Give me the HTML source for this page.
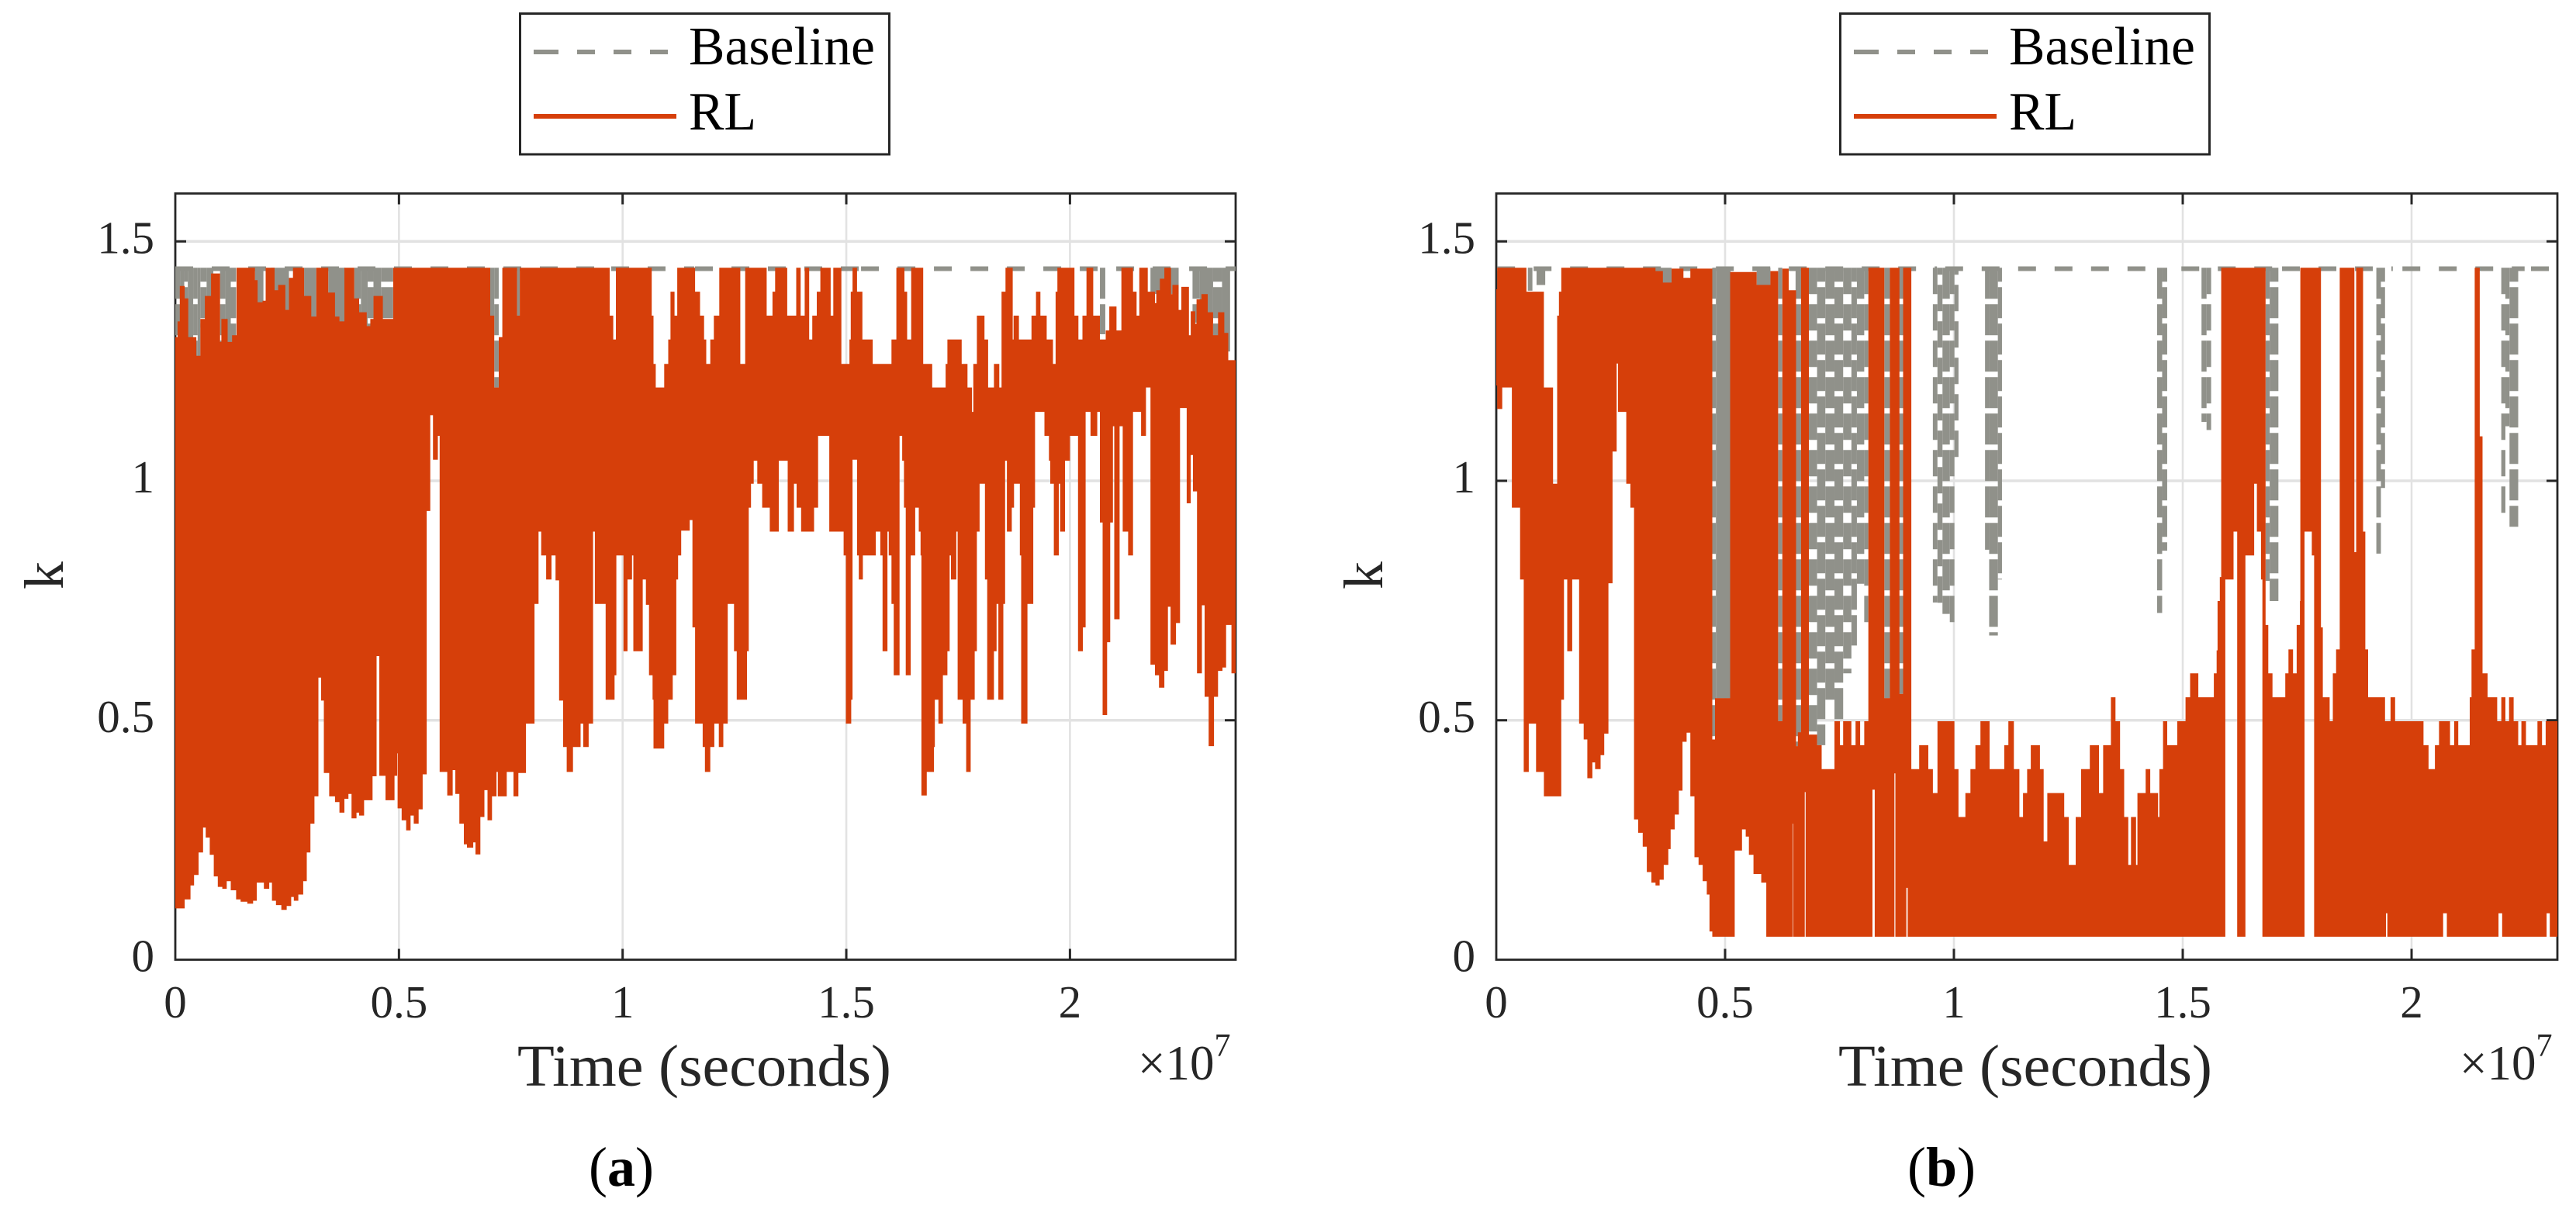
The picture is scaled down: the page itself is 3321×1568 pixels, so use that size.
<!DOCTYPE html>
<html lang="en">
<head>
<meta charset="utf-8">
<title>Baseline vs RL k over time</title>
<style>
html,body{margin:0;padding:0;background:#fff;}
svg{display:block;}
text{font-family:"Liberation Serif",serif;}
</style>
</head>
<body>
<svg id="figure" xmlns="http://www.w3.org/2000/svg" width="3321" height="1568" viewBox="0 0 3321 1568">
<rect x="0" y="0" width="3321" height="1568" fill="#fff"/>

<g id="panel-a">
  <g id="plot-a"></g>
  <g>
    <rect x="670.5" y="17.5" width="476" height="181.5" fill="#fff" stroke="#262626" stroke-width="3"/>
    <line x1="688" x2="861" y1="67" y2="67" stroke="#90918a" stroke-width="6" stroke-dasharray="32 24 23 24 23 24 23"/>
    <text x="888" y="83" font-size="70" fill="#000" textLength="240" lengthAdjust="spacingAndGlyphs">Baseline</text>
    <line x1="688" x2="872" y1="150" y2="150" stroke="#d63f0a" stroke-width="6"/>
    <text x="888" y="167" font-size="70" fill="#000" textLength="87" lengthAdjust="spacingAndGlyphs">RL</text>
  </g>
  <text transform="translate(81,742) rotate(-90)" text-anchor="middle" font-size="72" fill="#262626">k</text>
  <text x="908" y="1400" text-anchor="middle" font-size="76" fill="#262626" textLength="482" lengthAdjust="spacingAndGlyphs">Time (seconds)</text>
  <text x="1467" y="1392" font-size="63" fill="#262626">×10<tspan font-size="42" dy="-30">7</tspan></text>
  <text x="801" y="1529" text-anchor="middle" font-size="72" fill="#000">(<tspan font-weight="bold">a</tspan>)</text>
</g>

<g id="panel-b">
  <g id="plot-b"></g>
  <g>
    <rect x="2372.5" y="17.5" width="476" height="181.5" fill="#fff" stroke="#262626" stroke-width="3"/>
    <line x1="2390" x2="2563" y1="67" y2="67" stroke="#90918a" stroke-width="6" stroke-dasharray="32 24 23 24 23 24 23"/>
    <text x="2590" y="83" font-size="70" fill="#000" textLength="240" lengthAdjust="spacingAndGlyphs">Baseline</text>
    <line x1="2390" x2="2574" y1="150" y2="150" stroke="#d63f0a" stroke-width="6"/>
    <text x="2590" y="167" font-size="70" fill="#000" textLength="87" lengthAdjust="spacingAndGlyphs">RL</text>
  </g>
  <text transform="translate(1782,742) rotate(-90)" text-anchor="middle" font-size="72" fill="#262626">k</text>
  <text x="2611" y="1400" text-anchor="middle" font-size="76" fill="#262626" textLength="482" lengthAdjust="spacingAndGlyphs">Time (seconds)</text>
  <text x="3171" y="1392" font-size="63" fill="#262626">×10<tspan font-size="42" dy="-30">7</tspan></text>
  <text x="2503" y="1529" text-anchor="middle" font-size="72" fill="#000">(<tspan font-weight="bold">b</tspan>)</text>
</g>
</svg>

<script>
// Shared axis ticks
const xTickValues = [0, 0.5, 1, 1.5, 2];
const xTickLabels = ["0", "0.5", "1", "1.5", "2"];
const yTickValues = [0, 0.5, 1, 1.5];
const yTickLabels = ["0", "0.5", "1", "1.5"];
const yLimit = 1.6;
const baselineLevel = 1.443;
const dipTop = 1.445;
const tLimitA = 2.3704;
const tLimitB = 2.3186;

// Panel (a): RL upper envelope (time in 1e7 s, k value)
const rlUpperTimeA = [0,.005,.010,.021,.029,.047,.056,.066,.080,.100,.103,.117,.127,.137,.178,.184,.195,.202,.222,.230,.246,.254,.263,.288,.304,.315,.342,.357,.367,.378,.400,.411,.428,.436,.443,.464,.487,.704,.713,.723,.731,.764,.770,.971,.979,.985,1.065,1.069,1.074,1.093,1.102,1.107,1.116,1.122,1.162,1.173,1.182,1.187,1.196,1.204,1.216,1.263,1.274,1.322,1.335,1.341,1.368,1.388,1.398,1.407,1.417,1.424,1.434,1.442,1.465,1.471,1.489,1.507,1.510,1.514,1.524,1.536,1.559,1.601,1.612,1.630,1.636,1.645,1.672,1.692,1.722,1.726,1.758,1.771,1.781,1.784,1.792,1.809,1.817,1.830,1.842,1.847,1.856,1.872,1.874,1.886,1.914,1.924,1.934,1.948,1.962,1.968,1.972,2.010,2.019,2.028,2.037,2.052,2.067,2.080,2.088,2.104,2.115,2.141,2.149,2.155,2.174,2.190,2.193,2.201,2.211,2.226,2.229,2.243,2.249,2.266,2.270,2.280,2.283,2.294,2.308,2.320,2.331,2.345,2.354];
const rlUpperValueA = [1.300,1.333,1.407,1.381,1.300,1.261,1.338,1.386,1.433,1.290,1.338,1.290,1.304,1.445,1.419,1.373,1.376,1.445,1.398,1.409,1.357,1.424,1.445,1.386,1.343,1.445,1.393,1.343,1.333,1.445,1.381,1.352,1.323,1.338,1.386,1.338,1.445,1.345,1.195,1.300,1.445,1.345,1.445,1.345,1.295,1.445,1.345,1.244,1.195,1.244,1.295,1.395,1.345,1.445,1.395,1.345,1.295,1.244,1.295,1.345,1.445,1.244,1.445,1.345,1.395,1.445,1.345,1.445,1.345,1.445,1.295,1.345,1.395,1.445,1.345,1.445,1.244,1.295,1.395,1.445,1.395,1.295,1.244,1.295,1.445,1.395,1.295,1.445,1.244,1.195,1.244,1.295,1.244,1.195,1.144,1.244,1.345,1.295,1.195,1.244,1.195,1.395,1.445,1.295,1.345,1.295,1.345,1.395,1.345,1.295,1.244,1.395,1.445,1.345,1.295,1.345,1.445,1.345,1.295,1.314,1.364,1.314,1.445,1.395,1.345,1.445,1.395,1.371,1.398,1.422,1.445,1.390,1.409,1.357,1.405,1.304,1.354,1.328,1.379,1.390,1.352,1.304,1.352,1.309,1.252];

// Panel (a): RL lower envelope
const rlLowerTimeA = [0,.021,.034,.042,.052,.062,.068,.077,.086,.095,.105,.115,.124,.136,.146,.161,.174,.182,.198,.210,.216,.225,.237,.249,.259,.265,.275,.286,.294,.302,.311,.320,.326,.332,.344,.357,.367,.378,.387,.394,.405,.411,.422,.441,.450,.456,.470,.490,.496,.497,.506,.516,.526,.533,.544,.553,.562,.570,.576,.587,.591,.608,.620,.626,.635,.645,.652,.666,.671,.682,.691,.698,.708,.718,.721,.741,.756,.767,.784,.803,.812,.818,.829,.841,.850,.858,.867,.875,.889,.906,.912,.924,.934,.938,.962,.982,.986,1.002,1.011,1.021,1.024,1.045,1.052,1.059,1.067,1.069,1.093,1.102,1.112,1.120,1.124,1.131,1.150,1.156,1.162,1.179,1.184,1.196,1.205,1.215,1.225,1.235,1.249,1.255,1.278,1.282,1.287,1.293,1.301,1.312,1.329,1.349,1.369,1.383,1.389,1.399,1.428,1.437,1.462,1.494,1.499,1.511,1.514,1.524,1.528,1.537,1.566,1.576,1.581,1.592,1.595,1.601,1.606,1.619,1.625,1.629,1.633,1.644,1.654,1.662,1.666,1.668,1.680,1.696,1.698,1.706,1.716,1.726,1.731,1.734,1.746,1.749,1.760,1.768,1.778,1.787,1.792,1.798,1.810,1.815,1.830,1.836,1.840,1.851,1.855,1.859,1.870,1.875,1.888,1.891,1.905,1.918,1.922,1.943,1.953,1.956,1.964,1.975,1.978,1.989,2.000,2.018,2.029,2.035,2.046,2.061,2.067,2.073,2.083,2.090,2.096,2.099,2.111,2.118,2.130,2.141,2.159,2.170,2.180,2.190,2.199,2.211,2.219,2.225,2.237,2.246,2.261,2.270,2.275,2.284,2.295,2.301,2.310,2.322,2.331,2.341,2.349,2.361];
const rlLowerValueA = [.107,.126,.155,.177,.224,.276,.255,.219,.174,.152,.148,.164,.145,.126,.121,.117,.123,.161,.148,.161,.123,.114,.104,.112,.131,.123,.136,.164,.224,.284,.341,.589,.541,.390,.341,.329,.307,.336,.346,.295,.307,.301,.333,.383,.634,.384,.333,.384,.431,.316,.291,.270,.301,.284,.314,.387,.937,1.137,1.044,1.094,.392,.343,.396,.346,.284,.241,.234,.245,.220,.298,.354,.291,.341,.392,.341,.392,.341,.390,.493,.743,.894,.844,.794,.844,.792,.541,.444,.392,.444,.493,.444,.493,.894,.743,.543,.594,.844,.644,.794,.844,.644,.794,.741,.594,.543,.441,.493,.543,.594,.794,.844,.896,.918,.694,.493,.444,.392,.444,.493,.444,.493,.743,.644,.543,.644,.944,.994,1.042,.994,.944,.894,1.042,.894,.994,.944,.894,.944,1.094,.894,.844,.493,.543,1.044,.844,.794,.844,.894,.844,.644,.894,.844,.743,.594,1.094,1.042,.944,.594,.844,.944,.894,.844,.343,.392,.444,.543,.493,.594,.644,.844,.794,.894,.543,.493,.392,.543,.644,.894,.994,.794,.543,.644,.743,.543,.743,1.042,.894,.944,.994,.844,.493,.743,.944,1.144,1.094,1.042,.994,.844,.994,.894,1.042,1.094,.644,.694,1.144,1.094,1.144,.913,.511,.663,.913,1.114,.711,1.114,.894,.844,1.144,1.094,1.195,.616,.594,.568,.603,.737,.658,.703,1.152,.953,1.054,.978,.598,.740,.549,.446,.549,.603,.610,.699,.598];

// Panel (a): Baseline dip columns (start, end, lowest k, dash pattern index)
const dipStartA = [0,.012,.020,.028,.040,.050,.056,.070,.100,.112,.124,.178,.213,.288,.342,.400,.415,.430,.443,.460,.704,.713,.764,2.067,2.180,2.274,2.290,2.320,2.340];
const dipEndA = [.012,.020,.028,.040,.050,.056,.070,.085,.112,.124,.136,.197,.254,.315,.380,.415,.430,.443,.460,.487,.713,.723,.770,2.079,2.243,2.290,2.320,2.340,2.358];
const dipLowA = [1.26,1.26,1.26,1.26,1.26,1.26,1.32,1.32,1.26,1.26,1.26,1.37,1.35,1.33,1.33,1.28,1.28,1.28,1.33,1.33,1.345,1.195,1.345,1.306,1.39,1.33,1.33,1.30,1.27];
const dipPatternA = [1,0,3,0,1,0,3,0,1,0,3,0,0,0,0,1,0,3,0,3,0,1,0,1,0,1,0,3,0];
const baselineStartA = [0,.9745,1.1618,1.533];
const baselineEndA = [.96,1.16,1.5294,2.3704];

// Panel (b): RL upper envelope
const rlUpperTimeB = [0,.002,.066,.104,.124,.133,.137,.142,.348,.364,.383,.409,.424,.472,.478,.511,.569,.599,.616,.625,.639,.655,.659,.666,.683,.701,.711,.739,.751,.758,.776,.785,.795,.804,.813,.848,.860,.881,.889,.907,.924,.944,.954,.964,1.001,1.010,1.025,1.036,1.047,1.058,1.078,1.110,1.119,1.131,1.143,1.151,1.160,1.168,1.188,1.196,1.204,1.241,1.251,1.266,1.278,1.297,1.317,1.326,1.343,1.353,1.363,1.372,1.381,1.387,1.398,1.401,1.419,1.429,1.446,1.449,1.457,1.466,1.488,1.506,1.516,1.534,1.568,1.574,1.576,1.581,1.584,1.681,1.687,1.696,1.724,1.731,1.741,1.749,1.756,1.757,1.802,1.806,1.821,1.828,1.835,1.843,1.875,1.879,1.894,1.899,1.905,1.942,1.954,1.964,2.026,2.037,2.051,2.060,2.084,2.093,2.102,2.127,2.131,2.138,2.149,2.155,2.166,2.187,2.196,2.205,2.213,2.223,2.233,2.240,2.250,2.275,2.285,2.293];
const rlUpperValueB = [1.400,1.445,1.395,1.195,.994,1.345,1.395,1.445,1.438,1.414,1.443,1.424,1.443,.460,.546,1.436,1.409,1.438,.498,1.443,1.398,.446,.475,1.445,.470,.448,.398,.498,.448,.498,.448,.498,.448,.498,1.445,.546,1.445,.555,1.445,.398,.448,.398,.348,.498,.398,.298,.348,.398,.448,.498,.398,.448,.498,.398,.298,.348,.398,.448,.398,.247,.348,.298,.198,.298,.398,.448,.348,.448,.548,.498,.398,.298,.198,.298,.198,.348,.398,.348,.298,.398,.498,.448,.498,.548,.598,.548,.598,.646,.749,.799,1.445,.699,.598,.548,.598,.648,.598,.699,.749,1.445,.694,.548,.498,.598,.648,1.445,.851,1.445,.894,.648,.548,.498,.548,.498,.448,.398,.448,.498,.448,.498,.448,.548,.648,1.445,1.093,.598,.548,.498,.548,.498,.548,.498,.448,.498,.448,.498,.448,.498];

// Panel (b): RL lower envelope
const rlLowerTimeB = [0,.002,.013,.034,.052,.060,.071,.087,.104,.142,.148,.155,.166,.181,.191,.199,.210,.216,.228,.236,.245,.254,.263,.266,.284,.293,.301,.310,.320,.329,.339,.348,.357,.366,.376,.381,.390,.399,.407,.416,.424,.433,.442,.451,.460,.466,.472,.521,.537,.545,.552,.562,.579,.590,.648,.649,.674,.676,.822,.827,.870,.872,.896,.899,1.593,1.611,1.619,1.637,1.656,1.662,1.671,1.674,1.766,1.782,1.787,1.944,1.947,2.069,2.077,2.190,2.198,2.295,2.302];
const rlLowerValueB = [1.199,1.150,1.195,.944,.794,.392,.493,.392,.341,.543,.794,.644,.794,.493,.460,.379,.412,.398,.427,.472,.786,1.061,1.245,1.144,.994,.944,.293,.265,.236,.183,.161,.155,.167,.198,.231,.272,.303,.353,.455,.474,.341,.214,.198,.164,.136,.059,.048,.228,.272,.257,.219,.179,.161,.048,.284,.048,.350,.048,.355,.048,.389,.048,.150,.048,.794,.894,.048,.844,.994,.894,.794,.048,.894,.844,.048,.097,.048,.097,.048,.097,.048,.097,.048];

// Panel (b): Baseline dip columns
const dipStartB = [.069,.088,.348,.569,.472,.480,.616,.654,.683,.701,.719,.739,.758,.776,.788,.804,.848,.879,.954,.964,.975,.991,1.001,1.068,1.077,1.096,1.444,1.455,1.541,1.552,1.681,1.690,1.923,1.933,2.196,2.205,2.214];
const dipEndB = [.079,.107,.383,.599,.480,.512,.625,.666,.701,.719,.739,.758,.776,.788,.804,.813,.860,.889,.964,.975,.991,1.001,1.010,1.077,1.096,1.105,1.455,1.466,1.552,1.562,1.690,1.709,1.933,1.942,2.205,2.214,2.233];
const dipLowB = [1.397,1.409,1.41,1.40,.460,.546,.498,.446,.470,.448,.541,.498,.598,.656,.785,.699,.546,.555,.746,.741,.722,.699,1.037,.856,.677,.794,.724,.854,1.123,1.106,.791,.749,.848,.985,.928,1.114,.904];
const dipPatternB = [0,1,0,0,1,0,1,1,2,3,1,3,2,3,1,2,1,1,2,4,1,2,4,1,1,3,1,3,1,2,1,3,1,3,2,1,3];
const baselineStartB = [.002,.981,1.497,1.717,1.980,2.261];
const baselineEndB = [.963,1.434,1.705,1.959,2.247,2.3186];

const SVG_NS = "http://www.w3.org/2000/svg";
const GRAY = "#90918a";
const RED = "#d63f0a";
const AXIS = "#262626";
const GRID = "#e2e2e2";
const DIP_DASH = [null, {d:"40 7", o:0}, {d:"34 13", o:0}, {d:"40 7", o:22}, {d:"34 13", o:25}];

function yScale(k) { return 1237.5 - 617.5 * k; }

function drawPanel(parent, left, right, tLimit, p) {
  const xScale = t => left + (right - left) * t / tLimit;
  const top = yScale(yLimit);
  const bottom = yScale(0);

  function add(tag, attrs, text) {
    const el = document.createElementNS(SVG_NS, tag);
    for (const key in attrs) el.setAttribute(key, attrs[key]);
    if (text !== undefined) el.textContent = text;
    parent.appendChild(el);
    return el;
  }

  xTickValues.forEach((v, i) => {
    if (v > 0) {
      const grid = add("line", {x1:xScale(v), x2:xScale(v), y1:top, y2:bottom, stroke:GRID, "stroke-width":2.6});
      
      
    }
    const label = add("text", {x:xScale(v), y:1312, "text-anchor":"middle", "font-size":59, fill:AXIS}, xTickLabels[i]);
    
    
  });
  yTickValues.forEach((v, i) => {
    if (v > 0) {
      const grid = add("line", {x1:left, x2:right, y1:yScale(v), y2:yScale(v), stroke:GRID, "stroke-width":3.4});
      
      
    }
    const label = add("text", {x:left - 27, y:yScale(v) + 15, "text-anchor":"end", "font-size":59, fill:AXIS}, yTickLabels[i]);
    
    
  });

  const box = add("rect", {x:left, y:top, width:right - left, height:bottom - top, fill:"none", stroke:AXIS, "stroke-width":2.8});
  
  

  xTickValues.forEach(v => {
    if (v === 0) return;
    const tickBottom = add("line", {x1:xScale(v), x2:xScale(v), y1:bottom, y2:bottom - 14, stroke:AXIS, "stroke-width":3});
    
    
    const tickTop = add("line", {x1:xScale(v), x2:xScale(v), y1:top, y2:top + 14, stroke:AXIS, "stroke-width":3});
    
    
  });
  yTickValues.forEach(v => {
    if (v === 0) return;
    const tickLeft = add("line", {x1:left, x2:left + 14, y1:yScale(v), y2:yScale(v), stroke:AXIS, "stroke-width":3});
    
    
    const tickRight = add("line", {x1:right, x2:right - 14, y1:yScale(v), y2:yScale(v), stroke:AXIS, "stroke-width":3});
    
    
  });

  p.baseStart.forEach((t0, i) => {
    const seg = add("line", {x1:xScale(t0), x2:xScale(p.baseEnd[i]), y1:yScale(baselineLevel), y2:yScale(baselineLevel), stroke:GRAY, "stroke-width":6, "stroke-dasharray":"23 24"});
    
    
  });

  p.dipStart.forEach((t0, i) => {
    const x0 = xScale(t0);
    const x1 = xScale(p.dipEnd[i]);
    const attrs = {x1:(x0 + x1) / 2, x2:(x0 + x1) / 2, y1:yScale(dipTop), y2:yScale(p.dipLow[i]), stroke:GRAY, "stroke-width":x1 - x0};
    const pattern = DIP_DASH[p.dipPattern[i]];
    if (pattern) {
      attrs["stroke-dasharray"] = pattern.d;
      attrs["stroke-dashoffset"] = pattern.o;
    }
    const dip = add("line", attrs);
    
    
  });

  let d = "";
  p.upperT.forEach((t, i) => {
    const next = i + 1 < p.upperT.length ? p.upperT[i + 1] : tLimit;
    d += (i === 0 ? "M" : "L") + xScale(t).toFixed(1) + " " + yScale(p.upperK[i]).toFixed(1);
    d += "L" + xScale(next).toFixed(1) + " " + yScale(p.upperK[i]).toFixed(1);
  });
  for (let i = p.lowerT.length - 1; i >= 0; i--) {
    const next = i + 1 < p.lowerT.length ? p.lowerT[i + 1] : tLimit;
    d += "L" + xScale(next).toFixed(1) + " " + yScale(p.lowerK[i]).toFixed(1);
    d += "L" + xScale(p.lowerT[i]).toFixed(1) + " " + yScale(p.lowerK[i]).toFixed(1);
  }
  const rl = add("path", {d:d + "Z", fill:RED, stroke:"none"});
  
  
}

drawPanel(document.getElementById("plot-a"), 226, 1593, tLimitA, {
  upperT: rlUpperTimeA, upperK: rlUpperValueA, lowerT: rlLowerTimeA, lowerK: rlLowerValueA,
  dipStart: dipStartA, dipEnd: dipEndA, dipLow: dipLowA, dipPattern: dipPatternA,
  baseStart: baselineStartA, baseEnd: baselineEndA
});
drawPanel(document.getElementById("plot-b"), 1929, 3297, tLimitB, {
  upperT: rlUpperTimeB, upperK: rlUpperValueB, lowerT: rlLowerTimeB, lowerK: rlLowerValueB,
  dipStart: dipStartB, dipEnd: dipEndB, dipLow: dipLowB, dipPattern: dipPatternB,
  baseStart: baselineStartB, baseEnd: baselineEndB
});
</script>
</body>
</html>
